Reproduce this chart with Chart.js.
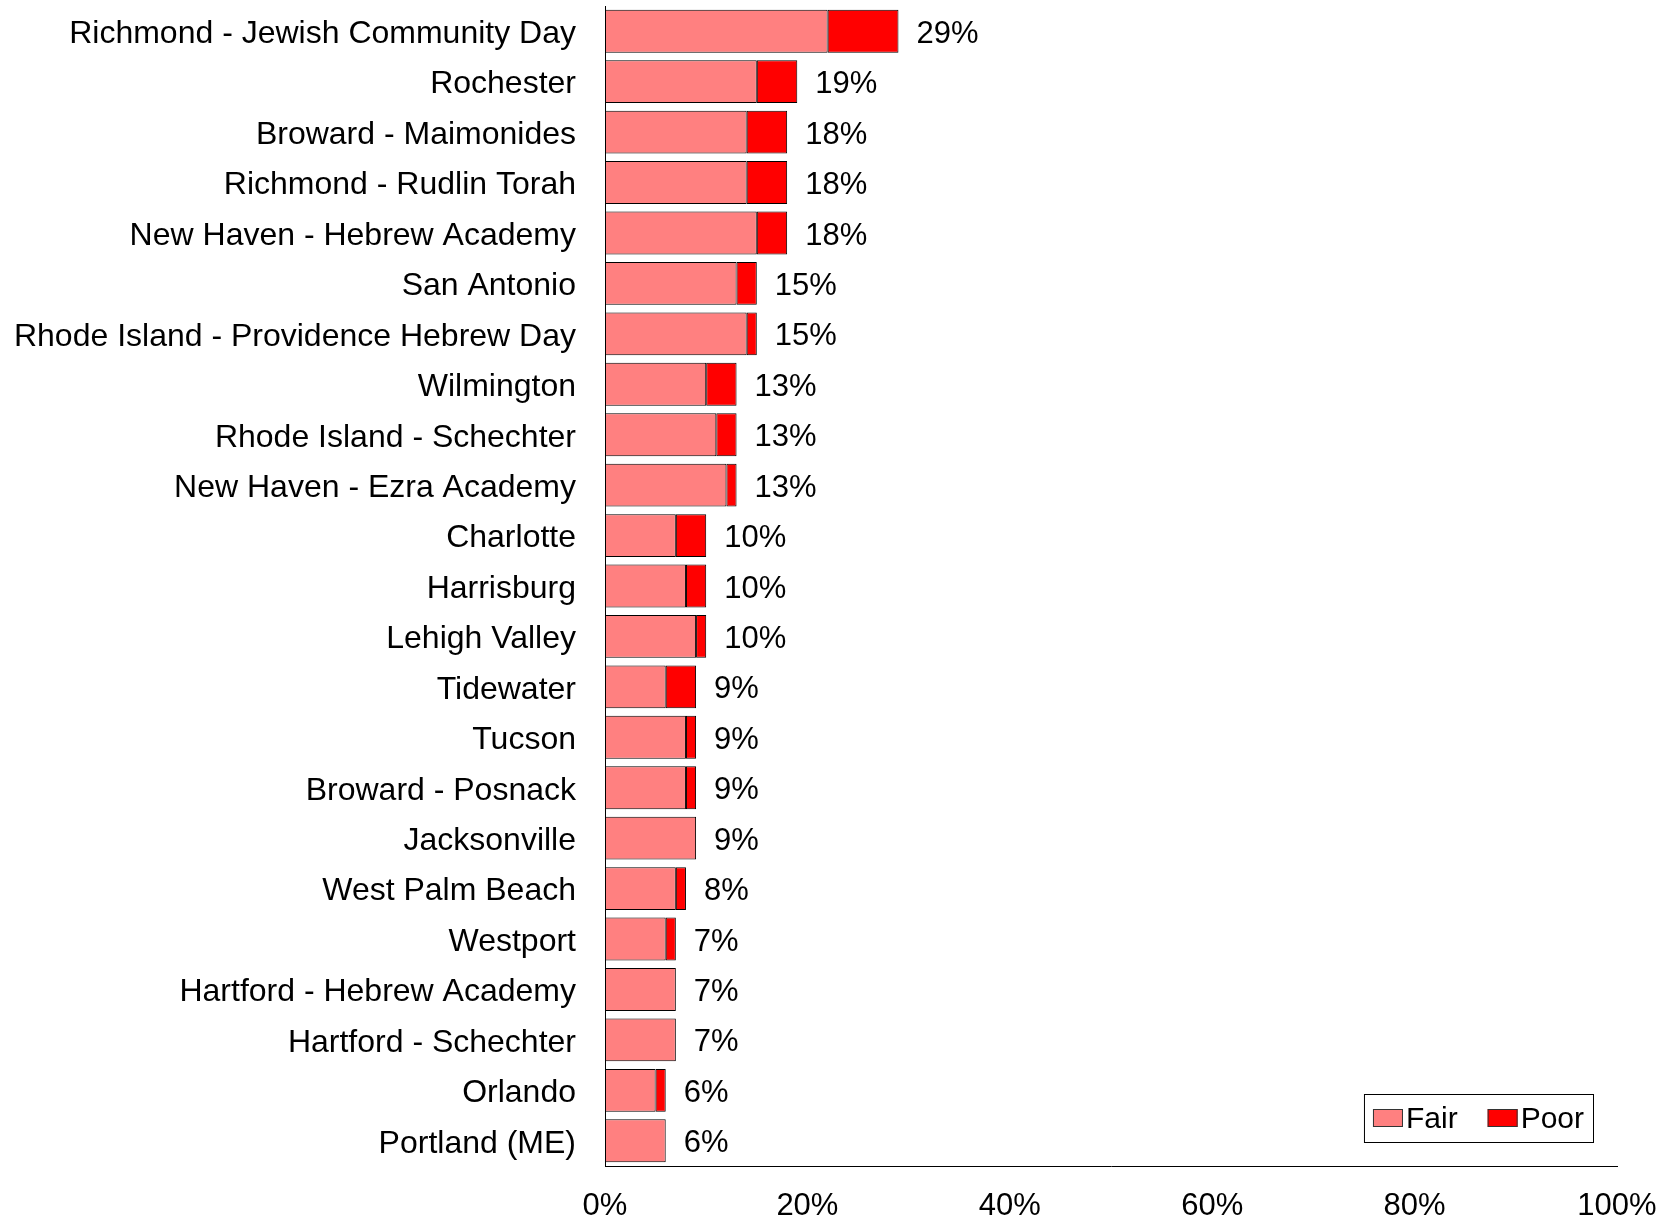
<!DOCTYPE html>
<html>
<head>
<meta charset="utf-8">
<title>Fair / Poor by school</title>
<script src="https://cdn.jsdelivr.net/npm/chart.js@4/dist/chart.umd.min.js"></script>
<style>
    html, body { margin: 0; padding: 0; background: #ffffff; }
    canvas { display: block; }
</style>
</head>
<body>
<canvas id="schoolChart" width="1671" height="1219"></canvas>
<script>
// Data storage
const schools = [
    'Richmond - Jewish Community Day',
    'Rochester',
    'Broward - Maimonides',
    'Richmond - Rudlin Torah',
    'New Haven - Hebrew Academy',
    'San Antonio',
    'Rhode Island - Providence Hebrew Day',
    'Wilmington',
    'Rhode Island - Schechter',
    'New Haven - Ezra Academy',
    'Charlotte',
    'Harrisburg',
    'Lehigh Valley',
    'Tidewater',
    'Tucson',
    'Broward - Posnack',
    'Jacksonville',
    'West Palm Beach',
    'Westport',
    'Hartford - Hebrew Academy',
    'Hartford - Schechter',
    'Orlando',
    'Portland (ME)'
];

const fairValues = [22, 15, 14, 14, 15, 13, 14, 10, 11, 12, 7, 8, 9, 6, 8, 8, 9, 7, 6, 7, 7, 5, 6];
const poorValues = [7, 4, 4, 4, 3, 2, 1, 3, 2, 1, 3, 2, 1, 3, 1, 1, 0, 1, 1, 0, 0, 1, 0];

const xTicks = [0, 20, 40, 60, 80, 100];

const FAMILY = '"Liberation Sans", Arial, sans-serif';
const LABEL_SIZE = 31;

// Total label to the right of each stacked bar
const totalLabels = {
    id: 'totalLabels',
    afterDatasetsDraw(chart) {
        const ctx = chart.ctx;
        const lastMeta = chart.getDatasetMeta(chart.data.datasets.length - 1);
        ctx.save();
        ctx.font = LABEL_SIZE + 'px ' + FAMILY;
        ctx.fillStyle = '#000';
        ctx.textAlign = 'left';
        ctx.textBaseline = 'middle';
        lastMeta.data.forEach((bar, i) => {
            const total = fairValues[i] + poorValues[i];
            ctx.fillText(total + '%', bar.x + 18, bar.y + 3);
        });
        ctx.restore();
    }
};

// Boxed legend in the lower right corner of the plot
const boxLegend = {
    id: 'boxLegend',
    afterDraw(chart) {
        const ctx = chart.ctx;
        const area = chart.chartArea;
        const sw = 30, sh = 18, pad = 9, gap = 3, spacing = 30, boxH = 48;
        ctx.save();
        ctx.font = '30px ' + FAMILY;
        const items = chart.data.datasets.map(ds => ({
            text: ds.label,
            color: ds.backgroundColor,
            width: ctx.measureText(ds.label).width
        }));
        let boxW = pad * 2;
        items.forEach((it, i) => {
            boxW += sw + gap + it.width + (i < items.length - 1 ? spacing : 0);
        });
        const right = area.right - 24;
        const bottom = area.bottom - 24;
        const left = right - boxW;
        const top = bottom - boxH;

        ctx.fillStyle = '#fff';
        ctx.fillRect(left, top, boxW, boxH);
        ctx.strokeStyle = '#000';
        ctx.lineWidth = 1;
        ctx.strokeRect(left + 0.5, top + 0.5, boxW, boxH);

        let x = left + pad;
        const midY = top + boxH / 2;
        items.forEach(it => {
            ctx.fillStyle = it.color;
            ctx.fillRect(x, midY - sh / 2, sw, sh);
            ctx.strokeStyle = '#333';
            ctx.strokeRect(x + 0.5, midY - sh / 2 + 0.5, sw - 1, sh - 1);
            ctx.fillStyle = '#000';
            ctx.textAlign = 'left';
            ctx.textBaseline = 'middle';
            ctx.fillText(it.text, x + sw + gap, midY + 2);
            x += sw + gap + it.width + spacing;
        });
        ctx.restore();
    }
};

function initializeChart() {
    const ctx = document.getElementById('schoolChart').getContext('2d');

    new Chart(ctx, {
        type: 'bar',
        data: {
            labels: schools,
            datasets: [
                {
                    label: 'Fair',
                    data: fairValues,
                    backgroundColor: '#FF8080',
                    borderColor: '#000',
                    borderWidth: 1,
                    borderSkipped: false,
                    barPercentage: 0.85,
                    categoryPercentage: 1
                },
                {
                    label: 'Poor',
                    data: poorValues,
                    backgroundColor: '#FF0000',
                    borderColor: '#000',
                    borderWidth: 1,
                    borderSkipped: false,
                    barPercentage: 0.85,
                    categoryPercentage: 1
                }
            ]
        },
        options: {
            indexAxis: 'y',
            responsive: false,
            animation: false,
            layout: { padding: { top: 6, right: 54, left: 0, bottom: 0 } },
            plugins: {
                legend: { display: false },
                tooltip: { enabled: false }
            },
            scales: {
                x: {
                    stacked: true,
                    min: 0,
                    max: 100,
                    afterBuildTicks: scale => { scale.ticks = xTicks.map(v => ({ value: v })); },
                    afterFit: scale => {
                        scale.height = 53;
                        scale.paddingLeft = 0;
                        scale.paddingRight = 0;
                    },
                    grid: { display: false, drawTicks: false },
                    border: { display: true, color: '#000', width: 1 },
                    ticks: {
                        color: '#000',
                        font: { family: FAMILY, size: 31 },
                        padding: 22,
                        maxRotation: 0,
                        callback: v => v + '%'
                    }
                },
                y: {
                    stacked: true,
                    afterFit: scale => {
                        scale.width = 605;
                        scale.paddingTop = 0;
                        scale.paddingBottom = 0;
                    },
                    grid: { display: false, drawTicks: false },
                    border: { display: true, color: '#000', width: 1 },
                    ticks: {
                        color: '#000',
                        font: { family: FAMILY, size: 32 },
                        padding: 29,
                        labelOffset: 3,
                        autoSkip: false
                    }
                }
            }
        },
        plugins: [totalLabels, boxLegend]
    });
}

window.onload = initializeChart;
</script>
</body>
</html>
